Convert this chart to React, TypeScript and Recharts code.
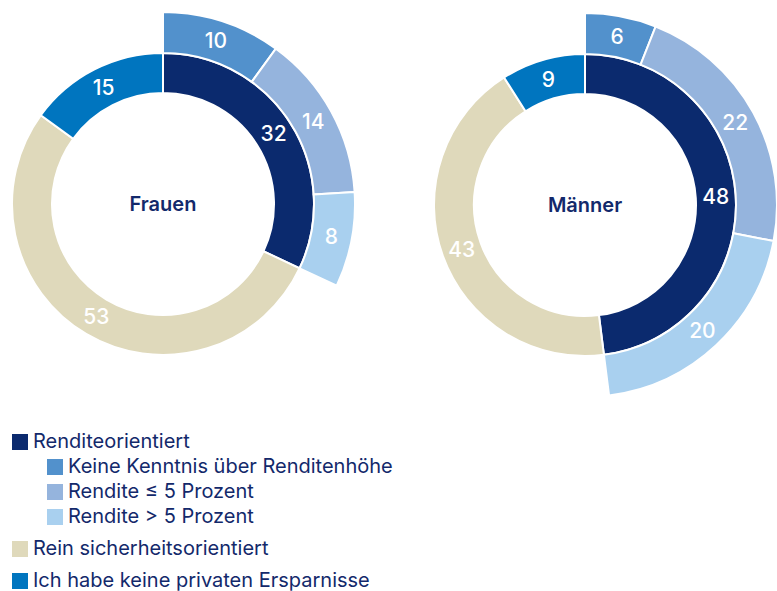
import React from "react";
import { PieChart, Pie, Cell } from "recharts";

const groups = ["Frauen", "Männer"];
const mainCategories = ["Renditeorientiert", "Rein sicherheitsorientiert", "Ich habe keine privaten Ersparnisse"];
const frauenMain = [32, 53, 15];
const maennerMain = [48, 43, 9];
const subCategories = ["Keine Kenntnis über Renditenhöhe", "Rendite ≤ 5 Prozent", "Rendite > 5 Prozent"];
const frauenSub = [10, 14, 8];
const maennerSub = [6, 22, 20];

const mainColors = ["#0b2a6e", "#dfd9bb", "#0075bf"];
const subColors = ["#5291cc", "#95b4dd", "#a9d0ef"];
const TEXT = "#13296b";
const FONT = "Inter, 'Noto Sans', sans-serif";
const RAD = Math.PI / 180;

const buildMain = (vals: number[]) => vals.map((v, i) => ({ name: mainCategories[i], value: v }));
const buildSub = (vals: number[], mains: number[]) => {
  const total = mains.reduce((a, b) => a + b, 0);
  const s = vals.reduce((a, b) => a + b, 0);
  return [
    ...vals.map((v, i) => ({ name: subCategories[i], value: v })),
    { name: "__filler", value: total - s },
  ];
};

const renderLabel = (props: any) => {
  const { cx, cy, midAngle, innerRadius, outerRadius, value, name, payload } = props;
  const nm = name ?? payload?.name;
  if (nm === "__filler") return null;
  const r = (innerRadius + outerRadius) / 2;
  const x = cx + r * Math.cos(-midAngle * RAD);
  const y = cy + r * Math.sin(-midAngle * RAD);
  return (
    <text x={x} y={y} fill="#ffffff" textAnchor="middle" dominantBaseline="central"
      fontFamily={FONT} fontSize={21} fontWeight={500}>
      {value}
    </text>
  );
};

const charts = [
  { title: groups[0], cx: 163, cy: 204, main: frauenMain, sub: frauenSub },
  { title: groups[1], cx: 585, cy: 205, main: maennerMain, sub: maennerSub },
];

type LegendRow = { label: string; color: string; indent: boolean; gap: number };
const legendRows: LegendRow[] = [
  { label: mainCategories[0], color: mainColors[0], indent: false, gap: 0 },
  { label: subCategories[0], color: subColors[0], indent: true, gap: 0 },
  { label: subCategories[1], color: subColors[1], indent: true, gap: 0 },
  { label: subCategories[2], color: subColors[2], indent: true, gap: 0 },
  { label: mainCategories[1], color: mainColors[1], indent: false, gap: 7 },
  { label: mainCategories[2], color: mainColors[2], indent: false, gap: 7 },
];

export default function App() {
  return (
    <div style={{ position: "absolute", left: 0, top: 0, width: 777, height: 591, background: "#fff", overflow: "hidden" }}>
      <PieChart width={777} height={410} margin={{ top: 0, right: 0, bottom: 0, left: 0 }}>
        {charts.map((c) => (
          <Pie key={c.title + "m"} data={buildMain(c.main)} dataKey="value" nameKey="name"
            cx={c.cx} cy={c.cy} innerRadius={111} outerRadius={151}
            startAngle={90} endAngle={-270} stroke="#ffffff" strokeWidth={2}
            label={renderLabel} labelLine={false} isAnimationActive={false}>
            {c.main.map((_, i) => <Cell key={i} fill={mainColors[i]} />)}
          </Pie>
        ))}
        {charts.map((c) => (
          <Pie key={c.title + "s"} data={buildSub(c.sub, c.main)} dataKey="value" nameKey="name"
            cx={c.cx} cy={c.cy} innerRadius={151} outerRadius={192}
            startAngle={90} endAngle={-270} stroke="#ffffff" strokeWidth={2}
            label={renderLabel} labelLine={false} isAnimationActive={false}>
            {buildSub(c.sub, c.main).map((d, i) =>
              d.name === "__filler"
                ? <Cell key={i} fill="none" stroke="none" />
                : <Cell key={i} fill={subColors[i]} />
            )}
          </Pie>
        ))}
        {charts.map((c) => (
          <text key={c.title + "t"} x={c.cx} y={c.cy} textAnchor="middle" dominantBaseline="central"
            fill={TEXT} fontFamily={FONT} fontSize={20} fontWeight={600}>
            {c.title}
          </text>
        ))}
      </PieChart>
      <div style={{ position: "absolute", left: 0, top: 429, fontFamily: FONT, color: TEXT, fontSize: 20 }}>
        {legendRows.map((r, i) => (
          <div key={i} style={{ display: "flex", alignItems: "center", height: 25, marginTop: r.gap, paddingLeft: r.indent ? 47 : 12 }}>
            <span style={{ display: "inline-block", width: 16, height: 16, background: r.color, marginRight: 5 }} />
            <span style={{ lineHeight: "25px", whiteSpace: "nowrap" }}>{r.label}</span>
          </div>
        ))}
      </div>
    </div>
  );
}
